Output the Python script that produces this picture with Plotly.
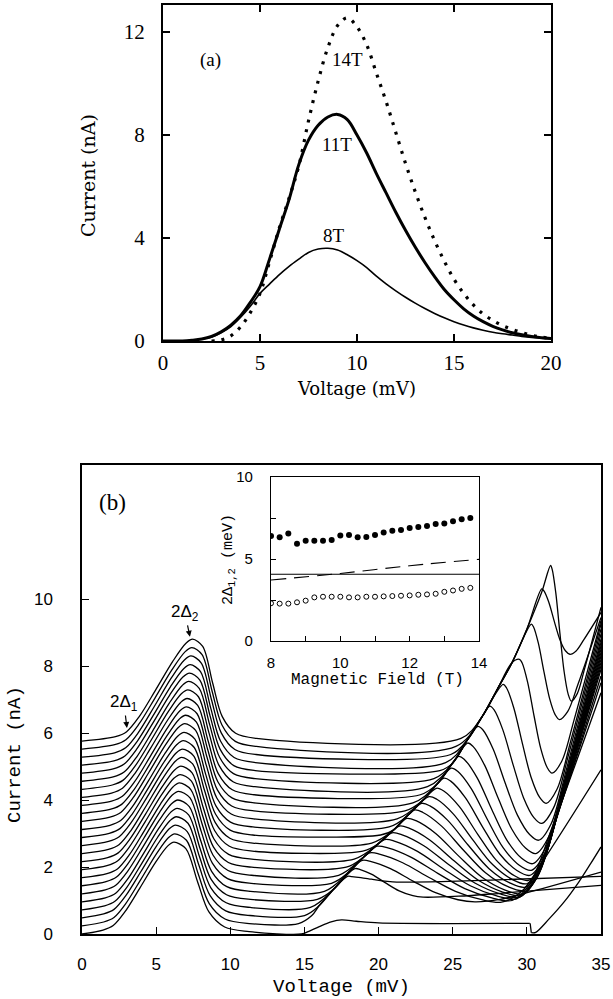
import numpy as np
import plotly.graph_objects as go

# ---------------- Panel (a) data ----------------
a_voltage = [0, 0.5, 1, 1.5, 2, 2.5, 3, 3.5, 4, 4.5, 5, 5.5, 6, 6.5, 7, 7.5, 8, 8.5, 9, 9.5,
             10, 10.5, 11, 11.5, 12, 12.5, 13, 13.5, 14, 14.5, 15, 15.5, 16, 16.5, 17, 17.5,
             18, 18.5, 19, 19.5, 20]
a_8T = [0, 0, 0, 0.02, 0.08, 0.15, 0.32, 0.56, 0.92, 1.35, 1.85, 2.22, 2.58, 2.9, 3.18, 3.44,
        3.57, 3.6, 3.53, 3.35, 3.12, 2.85, 2.52, 2.22, 1.95, 1.7, 1.47, 1.26, 1.07, 0.9, 0.75,
        0.62, 0.51, 0.42, 0.34, 0.28, 0.23, 0.18, 0.14, 0.11, 0.08]
a_11T = [0, 0, 0, 0.03, 0.08, 0.18, 0.36, 0.62, 0.98, 1.5, 2.11, 3.2, 4.35, 5.5, 6.85, 7.8,
         8.38, 8.7, 8.8, 8.6, 8.0, 7.3, 6.5, 5.75, 5.0, 4.3, 3.65, 3.05, 2.5, 2.0, 1.6, 1.25,
         0.97, 0.75, 0.57, 0.43, 0.32, 0.24, 0.18, 0.13, 0.1]
a_14T = [None, None, None, None, None, 0.0, 0.04, 0.2, 0.55, 1.1, 1.85, 3.1, 4.4, 5.55, 6.8,
         8.55, 10.1, 11.4, 12.25, 12.55, 12.2, 11.5, 10.4, 9.3, 8.1, 6.9, 5.8, 4.8, 3.9, 3.1,
         2.4, 1.85, 1.4, 1.05, 0.8, 0.6, 0.45, 0.33, 0.22, 0.15, 0.1]
a_xticks = [0, 5, 10, 15, 20]
a_yticks = [0, 4, 8, 12]

# ---------------- Panel (b) data ----------------
b_offsets = [0.00, 0.24, 0.48, 0.72, 0.96, 1.20, 1.44, 1.68, 1.92, 2.16, 2.40, 2.64, 2.88,
             3.12, 3.36, 3.60, 3.84, 4.08, 4.32, 4.56, 4.80, 5.04, 5.28, 5.52, 5.76]
peak1_v = [6.20, 6.25, 6.30, 6.36, 6.41, 6.46, 6.51, 6.57, 6.62, 6.67, 6.72, 6.78, 6.83,
           6.88, 6.93, 6.99, 7.04, 7.09, 7.14, 7.20, 7.25, 7.30, 7.35, 7.41, 7.46]
peak1_h = [2.74, 2.75, 2.77, 2.78, 2.79, 2.80, 2.82, 2.83, 2.84, 2.85, 2.87, 2.88, 2.89,
           2.90, 2.92, 2.93, 2.94, 2.95, 2.97, 2.98, 2.99, 3.00, 3.02, 3.03, 3.04]
left_scale = [0.92, 0.92, 0.93, 0.93, 0.93, 0.94, 0.94, 0.94, 0.95, 0.95, 0.95, 0.96, 0.96,
              0.96, 0.97, 0.97, 0.97, 0.98, 0.98, 0.98, 0.99, 0.99, 0.99, 1.00, 1.00]
right_scale = [1.18, 1.17, 1.17, 1.16, 1.15, 1.14, 1.14, 1.13, 1.12, 1.11, 1.11, 1.10, 1.09,
               1.08, 1.08, 1.07, 1.06, 1.05, 1.05, 1.04, 1.03, 1.02, 1.02, 1.01, 1.00]
# first-peak profile (offset from peak, fraction of height)
prof_dv_left = [-7.5, -5.2, -4.45, -3.6, -2.5, -1.35, -0.45]
prof_f_left = [0.0, 0.043, 0.092, 0.24, 0.50, 0.78, 0.96]
prof_dv_right = [0.68, 1.35, 2.0, 2.9, 4.3]
prof_f_right = [0.93, 0.57, 0.24, 0.076, 0.026]

# common rising envelope of the second feature
env_v = [15.0, 15.5, 16, 17, 18, 19, 20, 21, 22, 23, 24, 25, 26, 27, 28, 29, 30, 31, 31.6]
env_i = [0.25, 0.55, 0.85, 1.35, 1.85, 2.3, 2.7, 3.1, 3.55, 4.0, 4.5, 5.1, 5.8, 6.5, 7.3,
         8.1, 9.1, 10.2, 11.0]

# second feature for traces 1..24
peak2_v = [17.9, 18.4, 18.9, 19.4, 19.9, 20.4, 20.9, 21.4, 21.9, 22.4, 22.9, 23.4, 23.9,
           24.4, 24.9, 25.4, 26.0, 26.7, 27.5, 28.4, 29.5, 30.3, 31.0, 31.6]
peak2_i = [1.72, 1.95, 2.2, 2.42, 2.62, 2.82, 3.02, 3.22, 3.45, 3.7, 3.9, 4.1, 4.35, 4.65,
           4.95, 5.3, 5.7, 6.2, 6.8, 7.45, 8.2, 9.25, 10.3, 11.0]
valley_v = [21.5, 23.0, 26.5, 28.3, 29.0, 29.3, 29.5, 29.6, 29.7, 29.8, 29.9, 30.0, 30.1,
            30.2, 30.3, 30.4, 30.6, 30.8, 31.0, 31.3, 31.7, 32.2, 32.9, 33.0]
valley_i = [1.55, 1.1, 0.96, 0.95, 1.0, 1.05, 1.1, 1.15, 1.2, 1.3, 1.4, 1.5, 1.6, 1.75, 1.9,
            2.1, 2.4, 2.8, 3.3, 3.9, 4.8, 6.4, 8.35, 6.95]
end_i = [1.72, 1.45, 1.85, 4.9, 7.2, 7.5, 7.7, 7.9, 8.0, 8.1, 8.2, 8.3, 8.4, 8.5, 8.6, 8.7,
         8.8, 8.95, 9.1, 9.25, 9.35, 9.45, 9.6, 9.75]
decline_t = [0.08, 0.25, 0.45, 0.65, 0.85]
decline_f = [0.03, 0.2, 0.5, 0.78, 0.95]
rise_t = [0.2, 0.45]
rise_f = [0.08, 0.35]

# lowest trace (8 T), second feature read directly
low_v = [14.8, 15.3, 16.0, 16.8, 17.5, 18.5, 20.0, 25.0, 30.2]
low_i = [0.0, 0.08, 0.22, 0.36, 0.42, 0.38, 0.33, 0.31, 0.32]
low_step_v = [30.22, 30.3]
low_step_i = [0.32, 0.04]
low_tail_v = [30.3, 30.6, 31.5, 32.5, 33.5, 34.3, 35.0]
low_tail_i = [0.04, 0.05, 0.45, 0.95, 1.55, 2.1, 2.6]

b_xticks = [0, 5, 10, 15, 20, 25, 30, 35]
b_yticks = [0, 2, 4, 6, 8, 10]

# ---------------- Inset data ----------------
field_T = [8.0, 8.25, 8.5, 8.75, 9.0, 9.25, 9.5, 9.75, 10.0, 10.25, 10.5, 10.75, 11.0,
           11.25, 11.5, 11.75, 12.0, 12.25, 12.5, 12.75, 13.0, 13.25, 13.5, 13.75]
gap2 = [6.40, 6.32, 6.56, 5.93, 6.12, 6.12, 6.12, 6.16, 6.44, 6.46, 6.32, 6.34, 6.46, 6.61,
        6.73, 6.77, 6.89, 6.95, 7.01, 7.13, 7.17, 7.30, 7.42, 7.50]
gap1 = [2.30, 2.28, 2.28, 2.36, 2.46, 2.66, 2.70, 2.70, 2.70, 2.66, 2.66, 2.70, 2.70, 2.72,
        2.74, 2.76, 2.78, 2.82, 2.84, 2.88, 3.00, 3.08, 3.18, 3.24]
solid_T = [8, 14]
solid_v = [4.07, 4.07]
dash_T = [8, 10, 12, 14]
dash_v = [3.72, 4.12, 4.59, 4.98]

# ---------------- build figure ----------------
W, H = 613, 999
fig = go.Figure()

thin = dict(color='black', width=1.6, shape='spline', smoothing=1.0)
fig.add_trace(go.Scatter(x=a_voltage, y=a_8T, mode='lines', line=thin, xaxis='x', yaxis='y'))
fig.add_trace(go.Scatter(x=a_voltage, y=a_11T, mode='lines',
                         line=dict(color='black', width=3.0, shape='spline', smoothing=1.0),
                         xaxis='x', yaxis='y'))
fig.add_trace(go.Scatter(x=a_voltage, y=a_14T, mode='lines',
                         line=dict(color='black', width=3.2, shape='spline', smoothing=1.0,
                                   dash='3px,7px'), xaxis='x', yaxis='y'))

bline = dict(color='black', width=1.3, shape='spline', smoothing=0.9)


def first_peak(i):
    b = b_offsets[i]
    pv, h = peak1_v[i], peak1_h[i]
    vs, ys = [0.0], [b]
    for dv, f in zip(prof_dv_left, prof_f_left):
        v = pv + dv * left_scale[i]
        if v > 0.25:
            vs.append(v); ys.append(b + h * f)
    vs.append(pv); ys.append(b + h)
    for dv, f in zip(prof_dv_right, prof_f_right):
        vs.append(pv + dv * right_scale[i]); ys.append(b + h * f)
    return vs, ys


for i in range(len(b_offsets)):
    b = b_offsets[i]
    vs, ys = first_peak(i)
    if i == 0:
        vs += low_v; ys += low_i
        fig.add_trace(go.Scatter(x=vs, y=ys, mode='lines', line=bline, xaxis='x2', yaxis='y2'))
        fig.add_trace(go.Scatter(x=low_step_v, y=low_step_i, mode='lines',
                                 line=dict(color='black', width=1.3), xaxis='x2', yaxis='y2'))
        fig.add_trace(go.Scatter(x=low_tail_v, y=low_tail_i, mode='lines', line=bline,
                                 xaxis='x2', yaxis='y2'))
        continue
    k = i - 1
    mid = ys[-1]
    knee = float(np.interp(mid, env_i, env_v))
    last = vs[-1]
    if knee - 0.5 > last + 0.5:
        vs.append(knee - 0.5); ys.append(mid)
    Vp, Ip = peak2_v[k], peak2_i[k]
    for ev, ei in zip(env_v, env_i):
        if knee + 0.3 < ev < Vp - 0.4:
            vs.append(ev); ys.append(ei)
    vs.append(Vp); ys.append(Ip)
    Vv, Iv = valley_v[k], valley_i[k]
    for t, f in zip(decline_t, decline_f):
        vs.append(Vp + t * (Vv - Vp)); ys.append(Ip - f * (Ip - Iv))
    vs.append(Vv); ys.append(Iv)
    Ie = end_i[k]
    for t, f in zip(rise_t, rise_f):
        vs.append(Vv + t * (35 - Vv)); ys.append(Iv + f * (Ie - Iv))
    vs.append(35.0); ys.append(Ie)
    fig.add_trace(go.Scatter(x=vs, y=ys, mode='lines', line=bline, xaxis='x2', yaxis='y2'))

# inset
fig.add_trace(go.Scatter(x=solid_T, y=solid_v, mode='lines', line=dict(color='black', width=1.1),
                         xaxis='x3', yaxis='y3'))
fig.add_trace(go.Scatter(x=dash_T, y=dash_v, mode='lines',
                         line=dict(color='black', width=1.1, dash='15px,8px', shape='spline'),
                         xaxis='x3', yaxis='y3'))
fig.add_trace(go.Scatter(x=field_T, y=gap2, mode='markers',
                         marker=dict(color='black', size=6, symbol='circle'),
                         xaxis='x3', yaxis='y3'))
fig.add_trace(go.Scatter(x=field_T, y=gap1, mode='markers',
                         marker=dict(color='white', size=5, symbol='circle',
                                     line=dict(color='black', width=1)),
                         xaxis='x3', yaxis='y3'))


def px_x(p):
    return p / W


def px_y(p):
    return 1 - p / H


serif = 'Liberation Serif'
sans = 'Liberation Sans'
mono = 'Liberation Mono'

common = dict(showgrid=False, zeroline=False, showline=True, linecolor='black',
              ticks='inside', tickcolor='black', automargin=False)

fig.update_layout(
    width=W, height=H, autosize=False,
    margin=dict(l=0, r=0, t=0, b=0, pad=0, autoexpand=False),
    paper_bgcolor='white', plot_bgcolor='white', showlegend=False,
    xaxis=dict(common, domain=[px_x(163), px_x(551)], range=[0, 20], anchor='y',
               tickvals=a_xticks, mirror='allticks', linewidth=2, tickwidth=1.5, ticklen=7,
               tickfont=dict(family=serif, size=21, color='black'), ticklabelstandoff=2),
    yaxis=dict(common, domain=[px_y(341), px_y(5)], range=[0, 13.05], anchor='x',
               tickvals=a_yticks, mirror='allticks', linewidth=2, tickwidth=1.5, ticklen=7,
               tickfont=dict(family=serif, size=21, color='black'), ticklabelstandoff=12),
    xaxis2=dict(common, domain=[px_x(82), px_x(601)], range=[0, 35], anchor='y2',
                tickvals=b_xticks, mirror=True, linewidth=1.5, tickwidth=1.2, ticklen=7,
                tickfont=dict(family=sans, size=17, color='black'), ticklabelstandoff=14),
    yaxis2=dict(common, domain=[px_y(934), px_y(465)], range=[0, 14.0], anchor='x2',
                tickvals=b_yticks, mirror=True, linewidth=1.5, tickwidth=1.2, ticklen=7,
                tickfont=dict(family=sans, size=17, color='black'), ticklabelstandoff=24),
    xaxis3=dict(common, domain=[px_x(271), px_x(479)], range=[8, 14], anchor='y3',
                tickvals=[8, 10, 12, 14], mirror=True, linewidth=1.2, tickwidth=1, ticklen=5,
                minor=dict(ticks='inside', tickvals=[9, 11, 13], ticklen=5, tickcolor='black'),
                tickfont=dict(family=sans, size=15, color='black'), ticklabelstandoff=8),
    yaxis3=dict(common, domain=[px_y(641), px_y(477)], range=[0, 10], anchor='x3',
                tickvals=[0, 5, 10], mirror=True, linewidth=1.2, tickwidth=1, ticklen=5,
                minor=dict(ticks='inside', tickvals=[2.5, 7.5], ticklen=5, tickcolor='black'),
                tickfont=dict(family=sans, size=15, color='black'), ticklabelstandoff=14),
)

C = dict(xanchor='center', yanchor='middle', showarrow=False)
ann = []
# panel (a) labels
ann.append(dict(C, text='Current (nA)', x=px_x(88), y=px_y(175), xref='paper', yref='paper',
                textangle=-90, font=dict(family='DejaVu Serif', size=19, color='black')))
ann.append(dict(C, text='Voltage (mV)', x=px_x(356), y=px_y(388), xref='paper', yref='paper',
                font=dict(family='DejaVu Serif', size=18, color='black')))
for txt, xv, yv in [('(a)', 2.47, 10.9), ('14T', 9.5, 10.95), ('11T', 8.97, 7.65),
                    ('8T', 8.8, 4.08)]:
    ann.append(dict(C, text=txt, x=xv, y=yv, xref='x', yref='y',
                    font=dict(family=serif, size=19, color='black')))
# panel (b) labels
ann.append(dict(C, text='Current (nA)', x=px_x(15), y=px_y(755), xref='paper', yref='paper',
                textangle=-90, font=dict(family=mono, size=19, color='black')))
ann.append(dict(C, text='Voltage (mV)', x=px_x(341), y=px_y(987), xref='paper', yref='paper',
                font=dict(family=mono, size=19, color='black')))
ann.append(dict(C, text='(b)', x=2.06, y=12.87, xref='x2', yref='y2',
                font=dict(family=serif, size=23, color='black')))
ann.append(dict(text='2Δ<sub>2</sub>', x=7.28, y=8.87, xref='x2', yref='y2', showarrow=True,
                ax=-5, ay=-24, arrowhead=2, arrowsize=1, arrowwidth=1.2, arrowcolor='black',
                font=dict(family=sans, size=17, color='black')))
ann.append(dict(text='2Δ<sub>1</sub>', x=3.03, y=6.15, xref='x2', yref='y2', showarrow=True,
                ax=-3, ay=-25, arrowhead=2, arrowsize=1, arrowwidth=1.2, arrowcolor='black',
                font=dict(family=sans, size=17, color='black')))
# inset labels
ann.append(dict(C, text='Magnetic Field (T)', x=px_x(377), y=px_y(680), xref='paper',
                yref='paper', font=dict(family=mono, size=16, color='black')))
ann.append(dict(C, text='2Δ<sub>1,2</sub> (meV)', x=px_x(229), y=px_y(560), xref='paper',
                yref='paper', textangle=-90, font=dict(family=mono, size=15, color='black')))
fig.update_layout(annotations=ann)

fig.write_html('out.html', config={'displayModeBar': False, 'responsive': False},
               post_script=["document.body.style.margin='0px';"
                            "document.documentElement.style.overflow='hidden';"
                            "document.body.style.overflow='hidden';"])
